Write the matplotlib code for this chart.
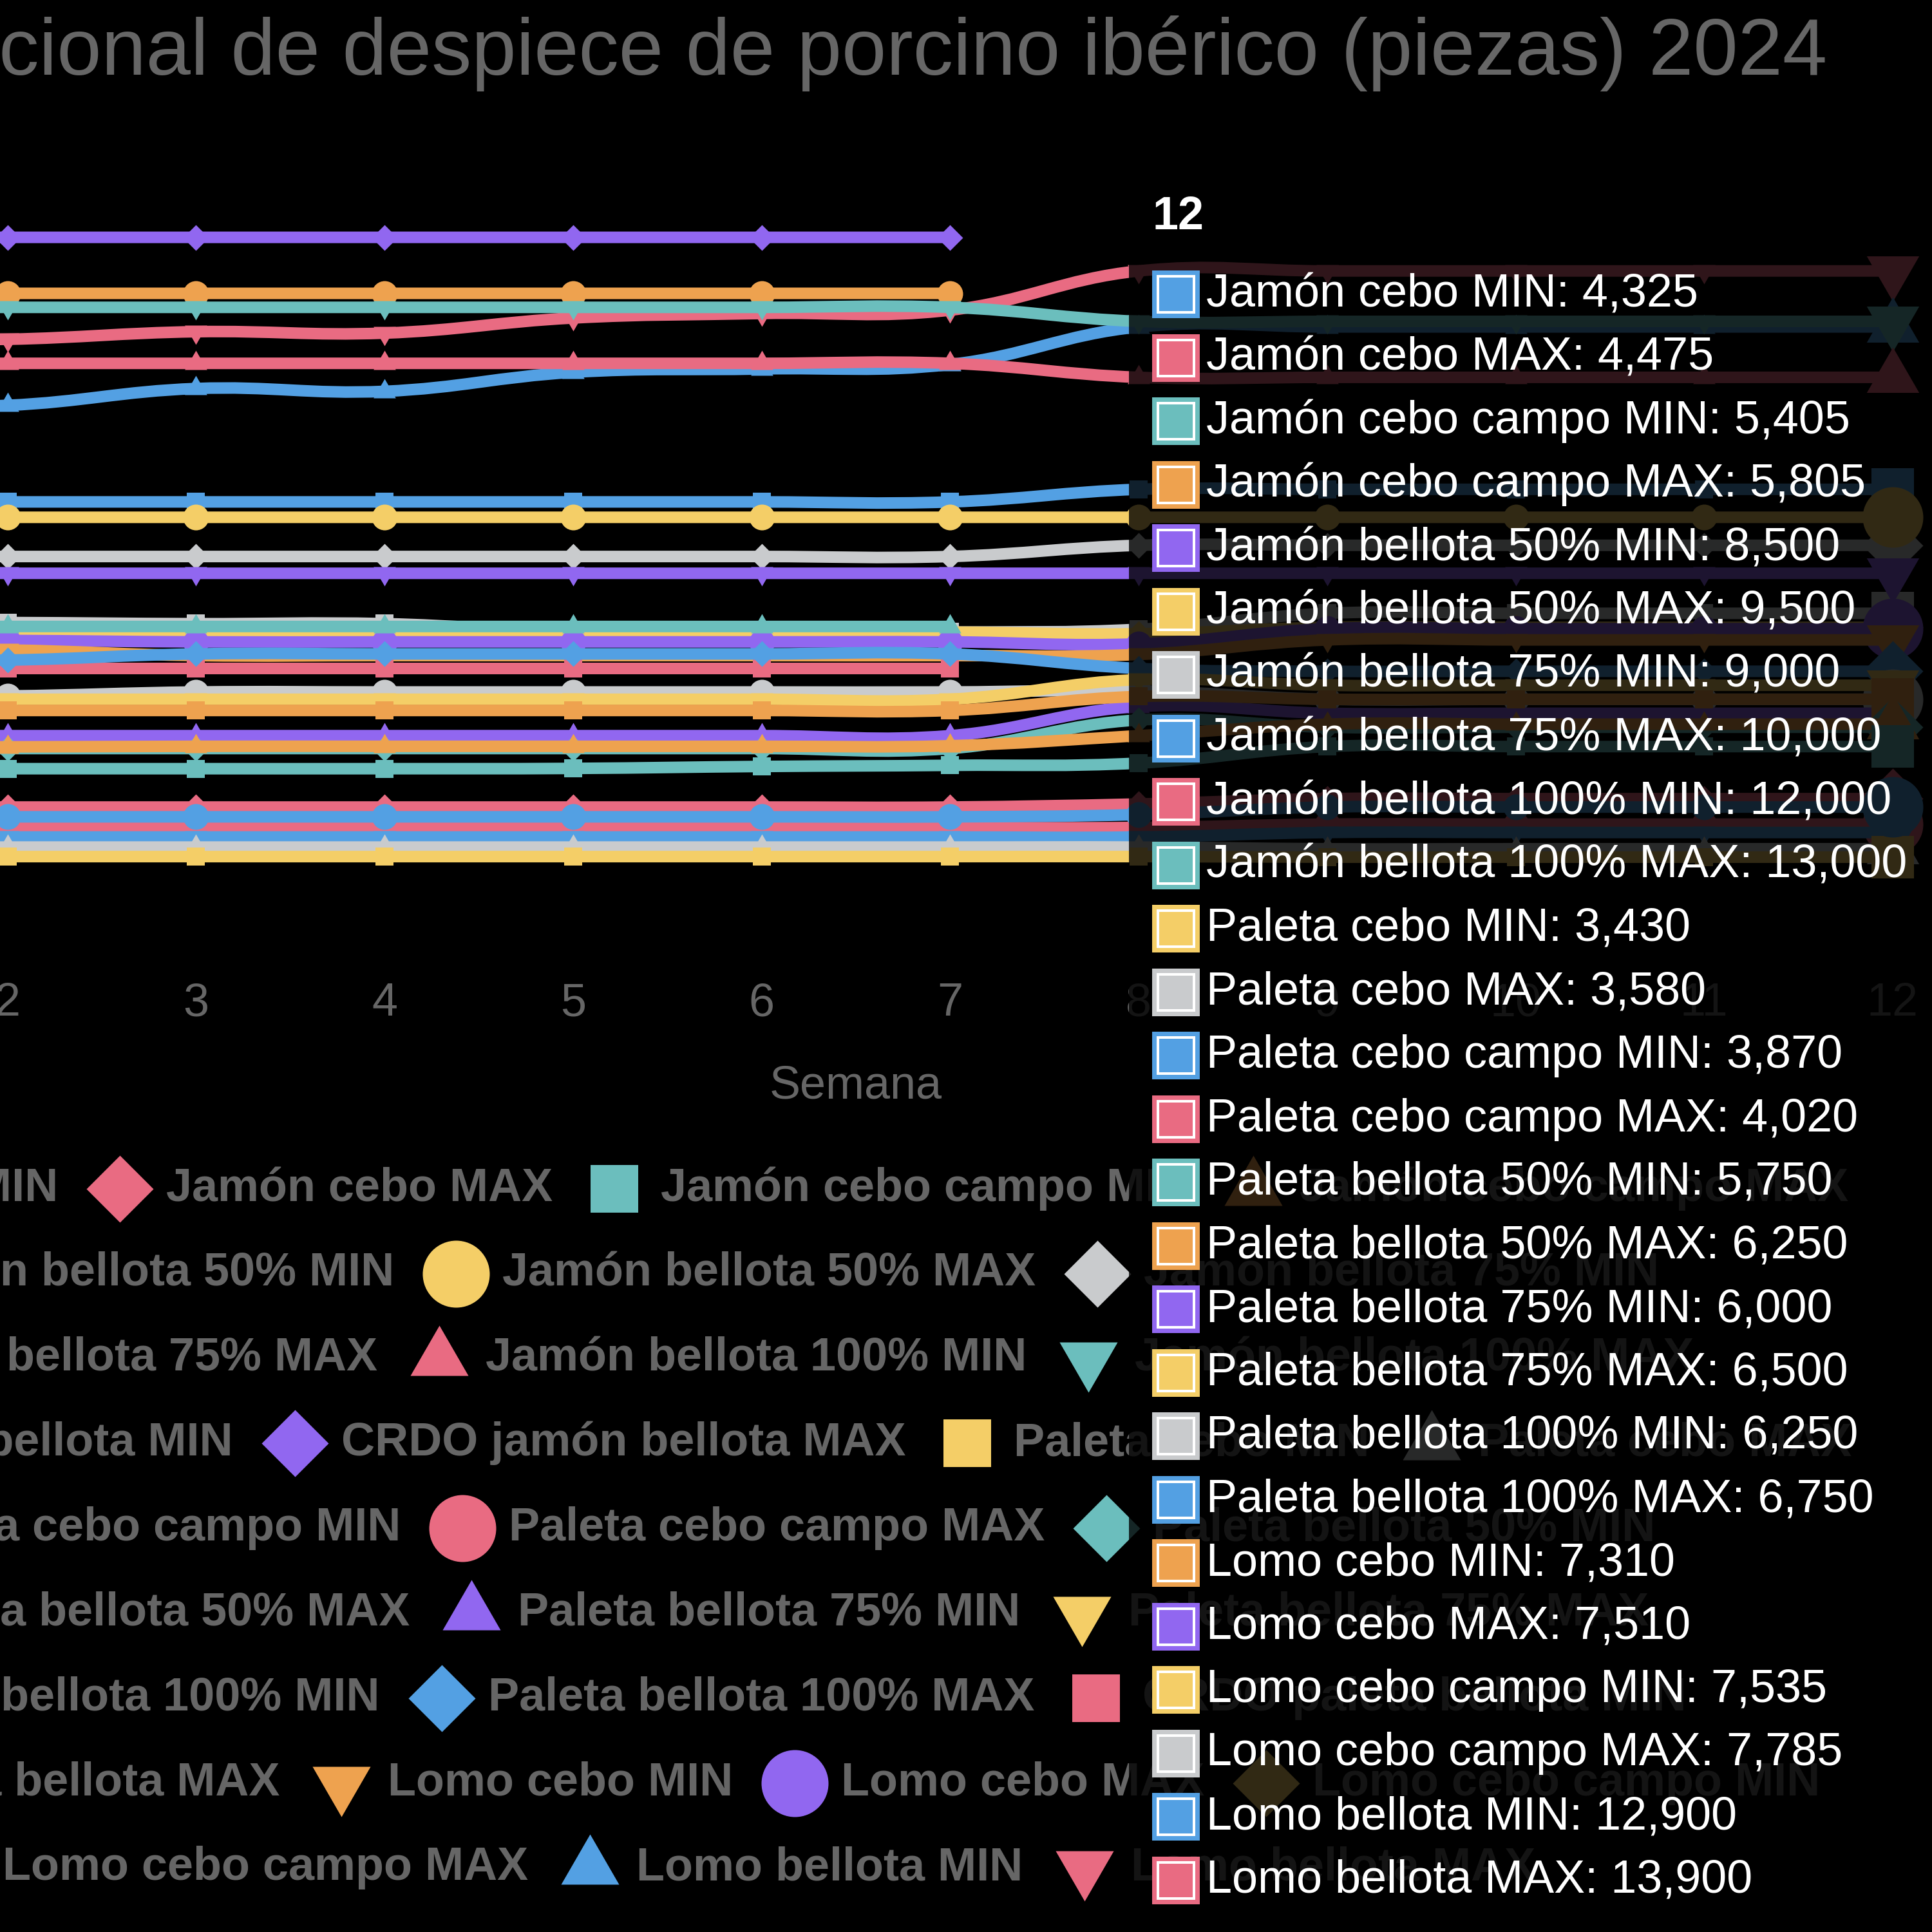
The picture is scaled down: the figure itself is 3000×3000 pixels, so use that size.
import numpy as np
import matplotlib
matplotlib.use("Agg")
import matplotlib.pyplot as plt
from matplotlib.path import Path
from matplotlib.patches import PathPatch, Rectangle, FancyBboxPatch

plt.rcParams["font.family"] = ["Liberation Sans", "DejaVu Sans"]

# ---- data (precio por pieza, semanas 1-12) ----
weeks = list(range(1, 13))
nan = np.nan

jamon_cebo_min        = [4150, 4150, 4150, 4150, 4150, 4150, 4150, 4190, 4325, 4325, 4325, 4325]
jamon_cebo_max        = [4325, 4325, 4325, 4325, 4325, 4325, 4325, 4380, 4475, 4475, 4475, 4475]
jamon_cebo_campo_min  = [5010, 5010, 5010, 5010, 5015, 5050, 5070, 5110, 5405, 5405, 5405, 5405]
jamon_cebo_campo_max  = [5400, 5400, 5410, 5410, 5410, 5410, 5420, 5600, 5805, 5805, 5805, 5805]
jamon_bell50_min      = [8500, 8500, 8500, 8500, 8500, 8500, 8500, 8500, 8500, 8500, 8500, 8500]
jamon_bell50_max      = [9500, 9500, 9500, 9500, 9500, 9500, 9500, 9500, 9500, 9500, 9500, 9500]
jamon_bell75_min      = [8800, 8800, 8800, 8800, 8800, 8800, 8800, 9000, 9000, 9000, 9000, 9000]
jamon_bell75_max      = [9775, 9775, 9775, 9775, 9775, 9775, 9775, 10000, 10000, 10000, 10000, 10000]
jamon_bell100_min     = [12250, 12250, 12250, 12250, 12250, 12250, 12250, 12000, 12000, 12000, 12000, 12000]
jamon_bell100_max     = [13250, 13250, 13250, 13250, 13250, 13250, 13250, 13000, 13000, 13000, 13000, 13000]
crdo_jamon_min        = [13500, 13500, 13500, 13500, 13500, 13500, 13500, nan, nan, nan, nan, nan]
crdo_jamon_max        = [14500, 14500, 14500, 14500, 14500, 14500, 14500, nan, nan, nan, nan, nan]
paleta_cebo_min       = [3440, 3440, 3440, 3440, 3440, 3440, 3440, 3440, 3430, 3430, 3430, 3430]
paleta_cebo_max       = [3610, 3610, 3610, 3610, 3610, 3610, 3610, 3610, 3580, 3580, 3580, 3580]
paleta_cebo_campo_min = [3790, 3790, 3790, 3790, 3790, 3790, 3790, 3790, 3870, 3870, 3870, 3870]
paleta_cebo_campo_max = [3960, 3960, 3960, 3960, 3960, 3960, 3960, 3960, 4020, 4020, 4020, 4020]
paleta_bell50_min     = [5370, 5370, 5370, 5370, 5370, 5370, 5370, 5880, 5750, 5750, 5750, 5750]
paleta_bell50_max     = [6050, 6050, 6050, 6050, 6050, 6050, 6050, 6300, 6250, 6250, 6250, 6250]
paleta_bell75_min     = [5600, 5600, 5600, 5600, 5600, 5600, 5600, 6120, 6000, 6000, 6000, 6000]
paleta_bell75_max     = [6250, 6250, 6250, 6250, 6250, 6250, 6250, 6600, 6500, 6500, 6500, 6500]
paleta_bell100_min    = [6310, 6310, 6380, 6380, 6380, 6380, 6380, 6400, 6250, 6250, 6250, 6250]
paleta_bell100_max    = [6950, 6950, 7060, 7060, 7060, 7060, 7060, 6800, 6750, 6750, 6750, 6750]
crdo_paleta_min       = [6800, 6800, 6800, 6800, 6800, 6800, 6800, nan, nan, nan, nan, nan]
crdo_paleta_max       = [7550, 7550, 7550, 7550, 7550, 7550, 7550, nan, nan, nan, nan, nan]
lomo_cebo_min         = [7130, 7130, 7030, 7030, 7030, 7030, 7030, 7050, 7310, 7310, 7310, 7310]
lomo_cebo_max         = [7300, 7300, 7275, 7275, 7275, 7275, 7275, 7240, 7510, 7510, 7510, 7510]
lomo_cebo_campo_min   = [7450, 7450, 7450, 7450, 7450, 7450, 7450, 7420, 7535, 7535, 7535, 7535]
lomo_cebo_campo_max   = [7620, 7620, 7600, 7600, 7450, 7450, 7450, 7500, 7785, 7785, 7785, 7785]
lomo_bellota_min      = [11500, 11500, 11800, 11750, 12090, 12150, 12230, 12900, 12900, 12900, 12900, 12900]
lomo_bellota_max      = [12680, 12680, 12815, 12790, 13060, 13140, 13200, 13900, 13900, 13900, 13900, 13900]

series = [
    ("Jamón cebo MIN", jamon_cebo_min), ("Jamón cebo MAX", jamon_cebo_max),
    ("Jamón cebo campo MIN", jamon_cebo_campo_min), ("Jamón cebo campo MAX", jamon_cebo_campo_max),
    ("Jamón bellota 50% MIN", jamon_bell50_min), ("Jamón bellota 50% MAX", jamon_bell50_max),
    ("Jamón bellota 75% MIN", jamon_bell75_min), ("Jamón bellota 75% MAX", jamon_bell75_max),
    ("Jamón bellota 100% MIN", jamon_bell100_min), ("Jamón bellota 100% MAX", jamon_bell100_max),
    ("CRDO jamón bellota MIN", crdo_jamon_min), ("CRDO jamón bellota MAX", crdo_jamon_max),
    ("Paleta cebo MIN", paleta_cebo_min), ("Paleta cebo MAX", paleta_cebo_max),
    ("Paleta cebo campo MIN", paleta_cebo_campo_min), ("Paleta cebo campo MAX", paleta_cebo_campo_max),
    ("Paleta bellota 50% MIN", paleta_bell50_min), ("Paleta bellota 50% MAX", paleta_bell50_max),
    ("Paleta bellota 75% MIN", paleta_bell75_min), ("Paleta bellota 75% MAX", paleta_bell75_max),
    ("Paleta bellota 100% MIN", paleta_bell100_min), ("Paleta bellota 100% MAX", paleta_bell100_max),
    ("CRDO paleta bellota MIN", crdo_paleta_min), ("CRDO paleta bellota MAX", crdo_paleta_max),
    ("Lomo cebo MIN", lomo_cebo_min), ("Lomo cebo MAX", lomo_cebo_max),
    ("Lomo cebo campo MIN", lomo_cebo_campo_min), ("Lomo cebo campo MAX", lomo_cebo_campo_max),
    ("Lomo bellota MIN", lomo_bellota_min), ("Lomo bellota MAX", lomo_bellota_max),
]
title = "Precio nacional de despiece de porcino ibérico (piezas) 2024"
xlabel = "Semana"
hover_week = 12
legend_rows = [[0, 1, 2, 3], [4, 5, 6], [7, 8, 9], [10, 11, 12, 13], [14, 15, 16],
               [17, 18, 19], [20, 21, 22], [23, 24, 25, 26], [27, 28, 29]]

palette = ["#53A0E3", "#E96B82", "#6BBEBD", "#EEA24F", "#9167F0", "#F4CE67", "#C9CBCD"]
styles = ["circle", "diamond", "square", "triangle", "triangle_down"]
GREY = "#666666"

# ---- canvas ----
W, H, DPI = 3000, 3000, 300
PT = 72 / DPI                      # points per pixel
FS = 72 * PT                       # 72 px font
fig = plt.figure(figsize=(W / DPI, H / DPI), dpi=DPI, facecolor="black")

# plot area in pixels (top-left origin); week 1 sits off the left edge
x_w1, x_w12, y_top, y_bot = -281.0, 2939.0, 325.1, 1455.3
ax = fig.add_axes([x_w1 / W, 1 - y_bot / H, (x_w12 - x_w1) / W, (y_bot - y_top) / H])
ax.set_xlim(1, 12); ax.set_ylim(2000, 15000)
ax.axis("off")

ov = fig.add_axes([0, 0, 1, 1], zorder=5)
ov.set_xlim(0, W); ov.set_ylim(H, 0); ov.axis("off")


def marker(kind):
    if kind == "circle":
        return "o", 1.0
    s, c = 0.7071, 0.866
    v = {"diamond": [(0, 1), (1, 0), (0, -1), (-1, 0)],
         "square": [(-s, -s), (s, -s), (s, s), (-s, s)],
         "triangle": [(0, 1), (-c, -0.5), (c, -0.5)],
         "triangle_down": [(0, -1), (c, 0.5), (-c, 0.5)]}[kind]
    v = v + [v[0]]
    return Path(v, closed=True), np.max(np.abs(v))


def ms(kind, r):
    return 2 * marker(kind)[1] * r * PT


def chartjs_path(xs, ys, tension=0.4):
    p = ax.transData.transform(np.column_stack([xs, ys]))
    n = len(p)
    cps = []
    for i in range(n):
        prev = p[i - 1] if i > 0 else p[i]
        nxt = p[i + 1] if i < n - 1 else p[i]
        d01 = np.hypot(*(p[i] - prev)); d12 = np.hypot(*(nxt - p[i]))
        tot = d01 + d12
        s01 = d01 / tot if tot else 0; s12 = d12 / tot if tot else 0
        cps.append((p[i] - tension * s01 * (nxt - prev), p[i] + tension * s12 * (nxt - prev)))
    verts, codes = [p[0]], [Path.MOVETO]
    for i in range(n - 1):
        verts += [cps[i][1], cps[i + 1][0], p[i + 1]]
        codes += [Path.CURVE4] * 3
    return Path(ax.transData.inverted().transform(np.array(verts)), codes)


# Chart.js paints the last dataset first, so dataset 0 ends on top
for i, (name, vals) in enumerate(series):
    col = palette[i % 7]; kind = styles[i % 5]
    vals = np.array(vals, dtype=float)
    ok = ~np.isnan(vals)
    xs = np.array(weeks)[ok]; ys = vals[ok]
    z = 10 + (29 - i) * 2
    ax.add_patch(PathPatch(chartjs_path(xs, ys), fill=False, ec=col, lw=18 * PT,
                           capstyle="butt", joinstyle="miter", zorder=z, clip_on=False))
    m = marker(kind)[0]
    normal = xs != hover_week
    ax.plot(xs[normal], ys[normal], ls="none", marker=m, ms=ms(kind, 20), mfc=col, mec=col,
            mew=0, zorder=z + 1, clip_on=False)
    ax.plot(xs[~normal], ys[~normal], ls="none", marker=m, ms=ms(kind, 47), mfc=col, mec=col,
            mew=0, zorder=z + 1, clip_on=False)

# ---- texts under the tooltip ----
ov.text(2837, 116, title, ha="right", va="baseline", color=GREY, fontsize=124.5 * PT)
for w in weeks:
    xp = ax.transData.transform((w, 2000))[0]
    ov.text(xp, 1577, str(w), ha="center", va="baseline", color=GREY, fontsize=FS, zorder=2)
xc = ax.transData.transform((6.5, 2000))[0]
ov.text(xc, 1705, xlabel, ha="center", va="baseline", color=GREY, fontsize=FS, zorder=2)

# legend laid out like Chart.js: rows centred, padding after every item
renderer = fig.canvas.get_renderer()
f, pad, cx, row0, row_h, r_leg = 72, 60, 1170, 1846, 131.8, 52


def text_w(s):
    t = ov.text(0, 0, s, fontsize=FS, fontweight="bold")
    w = t.get_window_extent(renderer).width
    t.remove()
    return w


for r, row in enumerate(legend_rows):
    widths = [f + f / 2 + text_w(series[i][0]) + pad for i in row]
    x = cx - sum(widths) / 2
    y = row0 + r * row_h
    for i, wd in zip(row, widths):
        col = palette[i % 7]; kind = styles[i % 5]
        ov.plot([x + f / 2], [y], ls="none", marker=marker(kind)[0], ms=ms(kind, r_leg),
                mfc=col, mec=col, mew=0, zorder=2, clip_on=False)
        ov.text(x + 1.5 * f, y + 19, series[i][0], ha="left", va="baseline", color=GREY,
                fontsize=FS, fontweight="bold", zorder=2)
        x += wd

# ---- tooltip at the hovered week ----
ov.add_patch(FancyBboxPatch((1753, 256), 2998 - 1753, 2995 - 256,
                            boxstyle="round,pad=0,rounding_size=36",
                            fc=(0, 0, 0, 0.8), ec="none", zorder=20))
ov.text(1789, 356, str(hover_week), ha="left", va="baseline", color="white",
        fontsize=FS, fontweight="bold", zorder=21)
j = 0
for i, (name, vals) in enumerate(series):
    v = vals[hover_week - 1]
    if np.isnan(v):
        continue
    c = 457 + 98.5 * j
    col = palette[i % 7]
    ov.add_patch(Rectangle((1789, c - 37), 74, 74, fc=col, ec="none", zorder=21))
    ov.add_patch(Rectangle((1798, c - 28), 56, 56, fill=False, ec="white", lw=4 * PT, zorder=22))
    ov.text(1873, c + 19, f"{name}: {int(v):,}", ha="left", va="baseline", color="white",
            fontsize=FS, zorder=22)
    j += 1

fig.savefig("out.png", dpi=DPI, facecolor="black")
